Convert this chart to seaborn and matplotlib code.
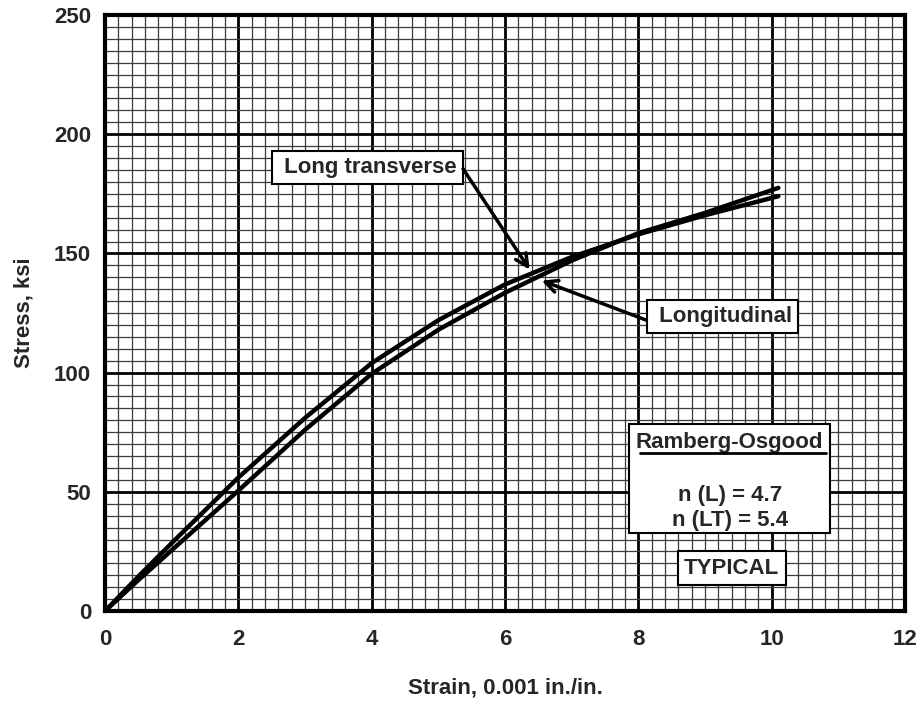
import numpy as np
import pandas as pd
import matplotlib
matplotlib.use("Agg")
import matplotlib.pyplot as plt
from matplotlib.patches import Rectangle
import seaborn as sns

# datos (strain en 0.001 in./in., stress en ksi)
strain = [0, 0.5, 1, 2, 3, 4, 5, 6, 7, 8, 9, 10.1]
stress_lt = [0, 14.5, 28.5, 56, 81, 104, 122, 137, 148.5, 158, 166, 174]   # long transverse
stress_l = [0, 13, 25.5, 50.5, 76, 99.5, 118, 133.5, 147, 158.5, 167, 177.5]  # longitudinal

x_ticks = [0, 2, 4, 6, 8, 10, 12]
y_ticks = [0, 50, 100, 150, 200, 250]

df = pd.DataFrame({
    "strain": strain * 2,
    "stress": stress_lt + stress_l,
    "dir": ["LT"] * len(strain) + ["L"] * len(strain),
})

sns.set_theme(style="white")
plt.rcParams["font.family"] = ["Liberation Sans", "DejaVu Sans"]
plt.rcParams["font.weight"] = "bold"

fs = 16

fig = plt.figure(figsize=(9.19, 7.02), dpi=100)
ax = fig.add_axes([0.1143, 0.1296, 0.8705, 0.849])

# grilla tipo papel milimetrado
ax.set_xticks(x_ticks)
ax.set_yticks(y_ticks)
ax.set_xticks(np.arange(0, 12.01, 0.2), minor=True)
ax.set_yticks(np.arange(0, 250.1, 5), minor=True)
ax.grid(which="minor", color="#3a3a3a", lw=0.9)
ax.grid(which="major", color="black", lw=2.0)
ax.set_axisbelow(True)

sns.lineplot(data=df, x="strain", y="stress", units="dir", estimator=None,
             color="black", lw=3.2, sort=False, ax=ax, legend=False,
             solid_capstyle="round")

ax.set_xlim(0, 12)
ax.set_ylim(0, 250)
for s in ax.spines.values():
    s.set_color("black")
    s.set_linewidth(3)

ax.tick_params(which="major", direction="out", length=4, width=2, color="black",
               labelsize=fs, pad=6)
ax.tick_params(which="minor", length=0)
for lab in ax.get_xticklabels() + ax.get_yticklabels():
    lab.set_fontweight("bold")
ax.tick_params(axis="x", pad=9)

ax.set_xlabel("Strain, 0.001 in./in.", fontsize=fs, fontweight="bold", labelpad=20)
ax.set_ylabel("Stress, ksi", fontsize=fs, fontweight="bold", labelpad=14)

box = dict(boxstyle="square,pad=0.28", fc="white", ec="black", lw=1.5)
arrow = dict(arrowstyle="->", color="black", lw=2.5, mutation_scale=22,
             shrinkA=0, shrinkB=0)

ax.text(3.93, 186, " Long transverse", fontsize=fs, fontweight="bold",
        ha="center", va="center", bbox=box, zorder=5)
ax.annotate("", xy=(6.37, 143.2), xytext=(5.37, 185.5), arrowprops=arrow, zorder=5)

ax.text(9.26, 123.5, " Longitudinal", fontsize=fs, fontweight="bold",
        ha="center", va="center", bbox=box, zorder=5)
ax.annotate("", xy=(6.55, 138.6), xytext=(8.12, 122), arrowprops=arrow, zorder=5)

# cuadro Ramberg-Osgood
ax.add_patch(Rectangle((7.86, 32.7), 3.01, 45.6, fc="white", ec="black", lw=1.5, zorder=5))
ax.text(9.37, 70.5, "Ramberg-Osgood", fontsize=fs, fontweight="bold",
        ha="center", va="center", zorder=6)
ax.plot([8.02, 10.82], [66.2, 66.2], color="black", lw=2, zorder=6)
ax.text(9.37, 48.6, "n (L) = 4.7", fontsize=fs, fontweight="bold",
        ha="center", va="center", zorder=6)
ax.text(9.37, 38.1, "n (LT) = 5.4", fontsize=fs, fontweight="bold",
        ha="center", va="center", zorder=6)

ax.text(9.4, 18, "TYPICAL", fontsize=fs, fontweight="bold",
        ha="center", va="center", bbox=box, zorder=6)

fig.savefig("out.png", dpi=100)
